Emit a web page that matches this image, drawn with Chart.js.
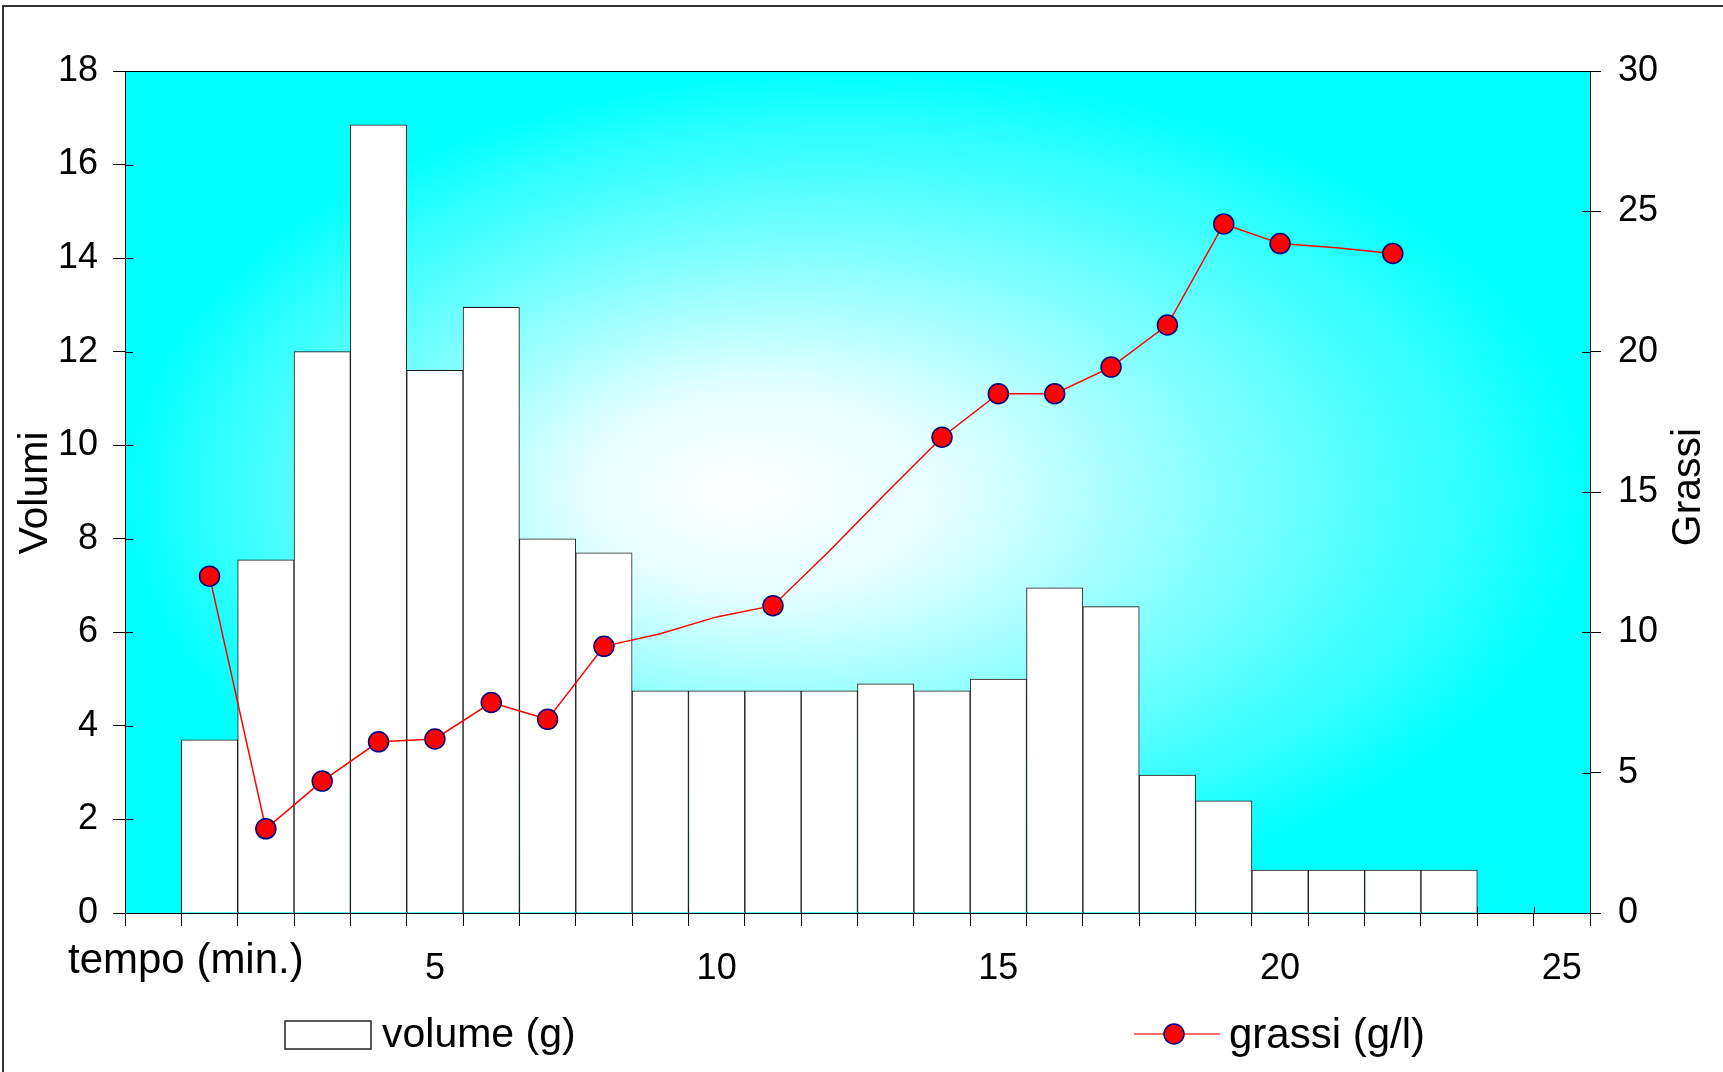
<!DOCTYPE html>
<html>
<head>
<meta charset="utf-8">
<script src="https://cdn.jsdelivr.net/npm/chart.js@4.4.1/dist/chart.umd.min.js"></script>
<style>
  html, body { margin: 0; padding: 0; background: #fff; }
  #wrap { width: 1723px; height: 1072px; position: relative; }
</style>
</head>
<body>
<div id="wrap"><canvas id="chart" width="1723" height="1072"></canvas></div>
<script>
// minutes on the x axis (one category per minute)
const minutes = ['0', '1', '2', '3', '4', '5', '6', '7', '8', '9', '10', '11', '12',
    '13', '14', '15', '16', '17', '18', '19', '20', '21', '22', '23', '24', '25'];
const shownMinutes = ['5', '10', '15', '20', '25'];

// volume (g), left axis
const volume = [null, 3.7, 7.55, 12.0, 16.85, 11.6, 12.95, 8.0, 7.7, 4.75, 4.75, 4.75, 4.75,
    4.9, 4.75, 5.0, 6.95, 6.55, 2.95, 2.4, 0.92, 0.92, 0.92, 0.92, null, null];

// grassi (g/l), right axis
const grassi = [null, 12.0, 3.0, 4.7, 6.1, 6.2, 7.5, 6.9, 9.5, 9.95, 10.55, 10.95, 12.9,
    14.95, 16.95, 18.5, 18.5, 19.45, 20.95, 24.55, 23.85, 23.7, 23.5, null, null, null];
// which grassi points carry a marker
const marked = [false, true, true, true, true, true, true, true, true, false, false, true, false,
    false, true, true, true, true, true, true, true, false, true, false, false, false];

const FONT = "'Liberation Sans', Arial, sans-serif";
Chart.defaults.font.family = FONT;
Chart.defaults.color = '#000';

// cyan -> white "from center" fill of the plot area
const plotBackground = {
    id: 'plotBackground',
    beforeDraw(chart) {
        const { ctx, chartArea: ca } = chart;
        const cx = (ca.left + ca.right) / 2, cy = (ca.top + ca.bottom) / 2;
        const rx = ca.width / 2, ry = ca.height / 2;
        const fx = ca.left + 0.415 * ca.width - cx;
        ctx.save();
        ctx.beginPath();
        ctx.rect(ca.left, ca.top, ca.width, ca.height);
        ctx.clip();
        ctx.translate(cx, cy);
        ctx.scale(1, ry / rx);
        const g = ctx.createRadialGradient(fx, 0, 0, 0, 0, rx);
        g.addColorStop(0, '#ffffff');
        g.addColorStop(0.25, '#e4ffff');
        g.addColorStop(0.6, '#78ffff');
        g.addColorStop(0.85, '#30ffff');
        g.addColorStop(1, '#00ffff');
        ctx.fillStyle = g;
        ctx.fillRect(-rx - 2, -rx - 2, 2 * rx + 4, 2 * rx + 4);
        ctx.restore();

        // outer frame of the picture (only top and left show)
        ctx.save();
        ctx.strokeStyle = '#333';
        ctx.lineWidth = 2;
        ctx.strokeRect(3, 6, 1900, 1200);
        ctx.restore();
    },
    beforeDatasetsDraw(chart) {
        // short inner part of the tick marks
        const { ctx, chartArea: ca, scales } = chart;
        ctx.save();
        ctx.strokeStyle = '#000';
        ctx.lineWidth = 1;
        ctx.beginPath();
        scales.y.ticks.forEach((t) => {
            const y = Math.round(scales.y.getPixelForValue(t.value)) + 0.5;
            ctx.moveTo(ca.left, y); ctx.lineTo(ca.left + 8, y);
        });
        scales.y1.ticks.forEach((t) => {
            const y = Math.round(scales.y1.getPixelForValue(t.value)) + 0.5;
            ctx.moveTo(ca.right - 8, y); ctx.lineTo(ca.right, y);
        });
        const half = (scales.x.getPixelForValue(1) - scales.x.getPixelForValue(0)) / 2;
        for (let i = 0; i <= minutes.length; i++) {
            const x = Math.round(scales.x.getPixelForValue(i) - half) + 0.5;
            ctx.moveTo(x, ca.bottom - 6); ctx.lineTo(x, ca.bottom);
        }
        ctx.stroke();
        ctx.restore();
    },
    afterDatasetsDraw(chart) {
        const { ctx, chartArea: ca } = chart;
        ctx.save();
        ctx.strokeStyle = '#000';
        ctx.lineWidth = 1;
        ctx.strokeRect(Math.round(ca.left) + 0.5, Math.round(ca.top) + 0.5,
            Math.round(ca.width), Math.round(ca.height));
        ctx.restore();
    },
    afterDraw(chart) {
        const { ctx } = chart;
        const ds = chart.data.datasets;
        ctx.save();
        ctx.fillStyle = '#000';
        ctx.textAlign = 'left';
        ctx.textBaseline = 'alphabetic';
        ctx.font = '42px ' + FONT;
        ctx.fillText('tempo (min.)', 68, 973);

        ctx.font = '41px ' + FONT;
        ctx.save();
        ctx.translate(47, 493);
        ctx.rotate(-Math.PI / 2);
        ctx.textAlign = 'center';
        ctx.fillText('Volumi', 0, 0);
        ctx.restore();

        ctx.save();
        ctx.translate(1700, 487);
        ctx.rotate(-Math.PI / 2);
        ctx.textAlign = 'center';
        ctx.fillText('Grassi', 0, 0);
        ctx.restore();

        // legend
        ctx.fillStyle = '#fff';
        ctx.fillRect(285, 1021, 86, 28);
        ctx.strokeStyle = '#222';
        ctx.lineWidth = 1.5;
        ctx.strokeRect(285, 1021, 86, 28);
        ctx.fillStyle = '#000';
        ctx.textBaseline = 'middle';
        ctx.fillText(ds[1].label, 382, 1036);

        ctx.strokeStyle = '#ff6f6f';
        ctx.lineWidth = 2;
        ctx.beginPath();
        ctx.moveTo(1134, 1034); ctx.lineTo(1220, 1034);
        ctx.stroke();
        ctx.beginPath();
        ctx.arc(1174, 1034, 10, 0, Math.PI * 2);
        ctx.fillStyle = '#ff0000';
        ctx.fill();
        ctx.strokeStyle = '#000080';
        ctx.lineWidth = 1.5;
        ctx.stroke();
        ctx.fillStyle = '#000';
        ctx.font = '42px ' + FONT;
        ctx.fillText(ds[0].label, 1229, 1036);
        ctx.restore();
    }
};

new Chart(document.getElementById('chart'), {
    type: 'bar',
    data: {
        labels: minutes,
        datasets: [
            {
                type: 'line',
                label: 'grassi (g/l)',
                data: grassi,
                yAxisID: 'y1',
                order: 0,
                borderColor: '#ff0000',
                borderWidth: 1.5,
                tension: 0,
                fill: false,
                pointRadius: marked.map(m => (m ? 10 : 0)),
                pointBackgroundColor: '#ff0000',
                pointBorderColor: '#000080',
                pointBorderWidth: 1.5
            },
            {
                label: 'volume (g)',
                data: volume,
                yAxisID: 'y',
                order: 1,
                backgroundColor: '#ffffff',
                borderColor: '#1a1a1a',
                borderWidth: 1,
                barPercentage: 1,
                categoryPercentage: 1
            }
        ]
    },
    options: {
        responsive: false,
        devicePixelRatio: 1,
        animation: false,
        layout: { padding: { top: 71, left: 0, right: 0, bottom: 0 } },
        plugins: {
            legend: { display: false },
            tooltip: { enabled: false }
        },
        scales: {
            x: {
                type: 'category',
                offset: true,
                grid: { offset: true, drawOnChartArea: false, tickLength: 13, color: '#000' },
                border: { display: false },
                ticks: {
                    autoSkip: false,
                    maxRotation: 0,
                    padding: 21,
                    font: { size: 36 },
                    callback: function (v) {
                        const l = this.getLabelForValue(v);
                        return shownMinutes.includes(l) ? l : '';
                    }
                },
                afterFit: (s) => { s.height = 159; }
            },
            y: {
                position: 'left',
                min: 0,
                max: 18,
                grid: { drawOnChartArea: false, tickLength: 12, color: '#000' },
                border: { display: false },
                ticks: { stepSize: 2, padding: 15, font: { size: 36 } },
                afterFit: (s) => { s.width = 125; }
            },
            y1: {
                position: 'right',
                min: 0,
                max: 30,
                grid: { drawOnChartArea: false, tickLength: 11, color: '#000' },
                border: { display: false },
                ticks: { stepSize: 5, padding: 17, font: { size: 36 } },
                afterFit: (s) => { s.width = 133; }
            }
        }
    },
    plugins: [plotBackground]
});
</script>
</body>
</html>
